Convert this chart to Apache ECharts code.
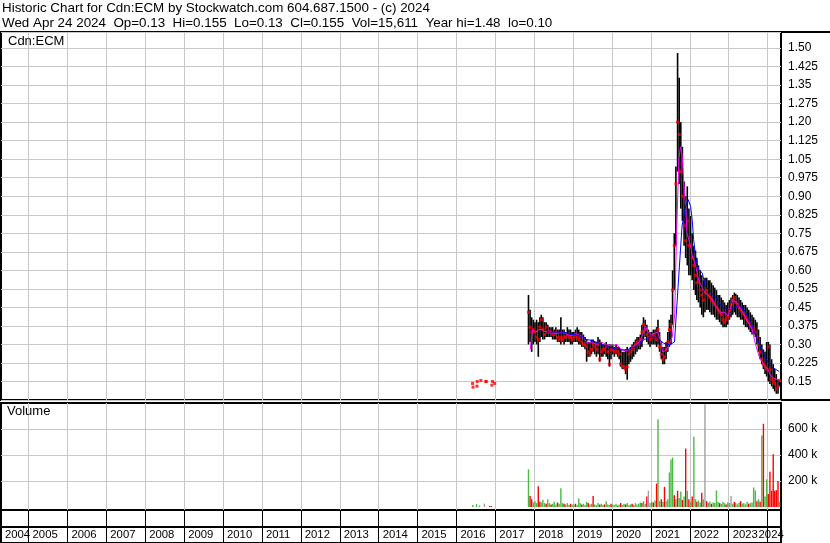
<!DOCTYPE html>
<html>
<head>
<meta charset="utf-8">
<title>Cdn:ECM historic chart</title>
<script src="https://cdn.jsdelivr.net/npm/echarts@6.0.0/dist/echarts.min.js"></script>
<style>
  html, body { margin: 0; padding: 0; background: #fff; }
  #chart { width: 830px; height: 543px; }
</style>
</head>
<body>
<div id="chart"></div>
<script>
var headerLine1 = 'Historic Chart for Cdn:ECM by Stockwatch.com 604.687.1500 - (c) 2024';
var headerLine2 = 'Wed Apr 24 2024  Op=0.13  Hi=0.155  Lo=0.13  Cl=0.155  Vol=15,611  Year hi=1.48  lo=0.10';

// year tick labels along the bottom
var years = ['2004', '2005', '2006', '2007', '2008', '2009', '2010', '2011', '2012', '2013', '2014',
  '2015', '2016', '2017', '2018', '2019', '2020', '2021', '2022', '2023', '2024'];
var volumeTicks = [200, 400, 600];

// half-month periods, Nov 2017 .. Apr 2024 (one line per year)
var highs = [
  0.50, 0.44, 0.41, 0.40,
  0.39, 0.40, 0.39, 0.41, 0.42, 0.41, 0.39, 0.39, 0.38, 0.37, 0.37, 0.37, 0.36, 0.37, 0.36, 0.36, 0.41, 0.36, 0.36, 0.35, 0.37, 0.36, 0.36, 0.35,
  0.35, 0.36, 0.37, 0.36, 0.35, 0.35, 0.34, 0.33, 0.32, 0.31, 0.31, 0.32, 0.32, 0.31, 0.31, 0.33, 0.32, 0.31, 0.30, 0.30, 0.31, 0.30, 0.30, 0.30,
  0.30, 0.29, 0.30, 0.29, 0.29, 0.28, 0.27, 0.27, 0.28, 0.29, 0.28, 0.29, 0.30, 0.31, 0.32, 0.33, 0.33, 0.34, 0.38, 0.41, 0.40, 0.38, 0.36, 0.35,
  0.35, 0.36, 0.36, 0.37, 0.40, 0.35, 0.31, 0.29, 0.29, 0.31, 0.35, 0.40, 0.42, 0.60, 0.75, 1.02, 1.48, 1.38, 1.20, 1.10, 0.96, 0.90, 0.94, 0.85,
  0.82, 0.75, 0.70, 0.68, 0.65, 0.62, 0.60, 0.58, 0.56, 0.57, 0.57, 0.56, 0.56, 0.55, 0.54, 0.53, 0.52, 0.50, 0.50, 0.49, 0.48, 0.47, 0.46, 0.47,
  0.48, 0.49, 0.50, 0.51, 0.505, 0.50, 0.49, 0.48, 0.47, 0.46, 0.46, 0.45, 0.44, 0.43, 0.42, 0.41, 0.40, 0.39, 0.36, 0.33, 0.30, 0.28, 0.27, 0.31,
  0.31, 0.30, 0.24, 0.22, 0.20, 0.18, 0.16, 0.155
];
var lows = [
  0.30, 0.31, 0.27, 0.30,
  0.31, 0.30, 0.25, 0.31, 0.33, 0.32, 0.32, 0.33, 0.33, 0.33, 0.33, 0.32, 0.32, 0.32, 0.31, 0.31, 0.30, 0.31, 0.30, 0.31, 0.31, 0.31, 0.30, 0.30,
  0.31, 0.31, 0.31, 0.30, 0.30, 0.29, 0.29, 0.28, 0.23, 0.25, 0.25, 0.26, 0.27, 0.26, 0.25, 0.26, 0.23, 0.25, 0.25, 0.26, 0.25, 0.24, 0.21, 0.24,
  0.26, 0.25, 0.26, 0.25, 0.24, 0.21, 0.20, 0.20, 0.18, 0.157, 0.22, 0.23, 0.24, 0.25, 0.26, 0.27, 0.28, 0.28, 0.29, 0.32, 0.33, 0.31, 0.30, 0.29,
  0.30, 0.30, 0.30, 0.29, 0.30, 0.27, 0.24, 0.22, 0.22, 0.24, 0.27, 0.29, 0.30, 0.38, 0.52, 0.70, 1.00, 0.95, 0.85, 0.80, 0.70, 0.65, 0.62, 0.58,
  0.58, 0.56, 0.52, 0.50, 0.48, 0.47, 0.45, 0.42, 0.41, 0.43, 0.44, 0.44, 0.43, 0.42, 0.42, 0.41, 0.40, 0.40, 0.39, 0.38, 0.37, 0.37, 0.37, 0.38,
  0.40, 0.41, 0.42, 0.43, 0.42, 0.41, 0.41, 0.40, 0.40, 0.38, 0.37, 0.37, 0.36, 0.35, 0.34, 0.34, 0.33, 0.30, 0.27, 0.24, 0.22, 0.20, 0.18, 0.17,
  0.15, 0.14, 0.13, 0.12, 0.11, 0.10, 0.10, 0.13
];
var closes = [
  0.43, 0.37, 0.35, 0.36,
  0.35, 0.33, 0.32, 0.37, 0.40, 0.36, 0.34, 0.37, 0.35, 0.35, 0.35, 0.34, 0.34, 0.35, 0.33, 0.32, 0.33, 0.32, 0.33, 0.33, 0.34, 0.33, 0.33, 0.32,
  0.33, 0.34, 0.33, 0.32, 0.33, 0.31, 0.30, 0.30, 0.29, 0.27, 0.26, 0.28, 0.30, 0.29, 0.28, 0.30, 0.24, 0.27, 0.28, 0.28, 0.29, 0.27, 0.22, 0.28,
  0.28, 0.27, 0.28, 0.27, 0.26, 0.22, 0.21, 0.21, 0.20, 0.21, 0.26, 0.27, 0.28, 0.29, 0.30, 0.31, 0.30, 0.32, 0.35, 0.38, 0.36, 0.34, 0.33, 0.32,
  0.33, 0.34, 0.33, 0.32, 0.36, 0.29, 0.26, 0.24, 0.25, 0.28, 0.31, 0.36, 0.38, 0.52, 0.70, 0.95, 1.20, 1.15, 1.00, 0.90, 0.78, 0.72, 0.80, 0.70,
  0.70, 0.65, 0.62, 0.58, 0.55, 0.55, 0.52, 0.50, 0.48, 0.51, 0.52, 0.50, 0.49, 0.48, 0.47, 0.46, 0.45, 0.44, 0.43, 0.42, 0.40, 0.39, 0.40, 0.41,
  0.44, 0.46, 0.48, 0.49, 0.47, 0.46, 0.45, 0.44, 0.43, 0.42, 0.41, 0.40, 0.39, 0.38, 0.37, 0.36, 0.35, 0.33, 0.30, 0.27, 0.24, 0.22, 0.21, 0.20,
  0.29, 0.20, 0.16, 0.15, 0.14, 0.12, 0.13, 0.155
];
// volume in thousands, g = up, r = down, k = unchanged
var volumes = [
  290, 85, 60, 35,
  45, 30, 160, 40, 35, 55, 30, 25, 60, 30, 20, 25, 40, 20, 35, 25, 145, 30, 25, 20, 30, 15, 25, 20,
  20, 25, 15, 65, 30, 20, 25, 15, 40, 30, 20, 25, 85, 20, 15, 30, 20, 25, 15, 20, 45, 20, 15, 25,
  20, 15, 25, 10, 20, 30, 15, 25, 20, 30, 15, 20, 25, 15, 30, 20, 25, 35, 30, 45, 25, 80, 125, 30,
  40, 35, 50, 180, 675, 45, 60, 40, 155, 45, 60, 265, 365, 380, 90, 60, 125, 70, 120, 55, 80, 450, 125, 60,
  40, 80, 540, 60, 40, 50, 35, 110, 60, 790, 45, 30, 40, 25, 35, 30, 128, 40, 30, 25, 40, 30, 20, 35,
  30, 85, 25, 40, 30, 20, 35, 45, 25, 30, 20, 40, 25, 30, 35, 150, 128, 45, 60, 40, 550, 640, 80, 213,
  100, 272, 125, 405, 125, 130, 200, 40
];
var volumeColors = ('grrg' +
  'ggrrgggrggrgggrgggrgggrg' +
  'grgggrgggrggrgggrggrgggr' +
  'gggrgrggrgggrgggggrggrkg' +
  'grgrggrgrgggggrgrggrgrgr' +
  'grggrggrgkrggrggggrgggrg' +
  'gkgrgggrggggrggggrgrgrgg' +
  'rrrrrrrg').split('');

// the few 2016 trades
var dates2016 = ['2016-06-01', '2016-06-05', '2016-07-12', '2016-07-15', '2016-08-18', '2016-10-04', '2016-10-07', '2016-11-29', '2016-12-06', '2016-12-26'];
var closes2016 = [0.142, 0.127, 0.131, 0.150, 0.154, 0.150, 0.150, 0.135, 0.150, 0.142];
var volDates2016 = ['2016-06-03', '2016-07-08', '2016-08-05', '2016-09-20', '2016-11-08', '2016-11-25'];
var vol2016 = [15, 22, 12, 26, 8, 8];
var volColors2016 = ['g', 'g', 'g', 'k', 'r', 'r'];

// moving averages
var blueDates = ['2018-05-01', '2018-06-01', '2018-07-01', '2018-08-01', '2018-09-01', '2018-10-01', '2018-11-01', '2018-12-01',
  '2019-01-01', '2019-02-01', '2019-03-01', '2019-04-01', '2019-05-01', '2019-06-01', '2019-07-01', '2019-08-01', '2019-09-01', '2019-10-01', '2019-11-01', '2019-12-01',
  '2020-01-01', '2020-02-01', '2020-03-01', '2020-04-01', '2020-05-01', '2020-06-01', '2020-07-01', '2020-08-01', '2020-09-01', '2020-10-01', '2020-11-01', '2020-12-01',
  '2021-01-01', '2021-02-01', '2021-03-01', '2021-04-01', '2021-05-01', '2021-06-01', '2021-07-01', '2021-08-10', '2021-09-12', '2021-10-20', '2021-11-22', '2021-12-17',
  '2022-01-08', '2022-01-23', '2022-02-06', '2022-02-24', '2022-03-25', '2022-04-27', '2022-05-26', '2022-07-01', '2022-09-01', '2022-11-01',
  '2023-01-01', '2023-02-15', '2023-04-01', '2023-05-25', '2023-07-15', '2023-09-10', '2023-11-05',
  '2024-01-01', '2024-02-05', '2024-03-15', '2024-04-20'];
var blueValues = [0.352, 0.35, 0.35, 0.35, 0.35, 0.35, 0.345, 0.34,
  0.34, 0.338, 0.335, 0.33, 0.32, 0.318, 0.315, 0.31, 0.305, 0.30, 0.295, 0.29,
  0.285, 0.282, 0.28, 0.278, 0.278, 0.28, 0.285, 0.29, 0.30, 0.31, 0.32, 0.325,
  0.33, 0.33, 0.325, 0.315, 0.305, 0.30, 0.30, 0.31, 0.53, 0.78, 0.86, 0.886,
  0.859, 0.805, 0.724, 0.657, 0.603, 0.59, 0.536, 0.52, 0.49, 0.45,
  0.44, 0.445, 0.46, 0.44, 0.40, 0.34, 0.28,
  0.23, 0.21, 0.20, 0.19];
var pinkDates = ['2017-11-25', '2017-12-15',
  '2018-01-15', '2018-02-15', '2018-03-15', '2018-04-15', '2018-05-15', '2018-06-15', '2018-07-15', '2018-08-15', '2018-09-15', '2018-10-15', '2018-11-15', '2018-12-15',
  '2019-01-15', '2019-02-15', '2019-03-15', '2019-04-15', '2019-05-15', '2019-06-15', '2019-07-15', '2019-08-15', '2019-09-15', '2019-10-15', '2019-11-15', '2019-12-15',
  '2020-01-15', '2020-02-15', '2020-03-15', '2020-04-15', '2020-05-15', '2020-06-15', '2020-07-15', '2020-08-15', '2020-09-15', '2020-10-15', '2020-11-10', '2020-12-05',
  '2021-01-05', '2021-02-05', '2021-03-05', '2021-04-05', '2021-04-20', '2021-05-20', '2021-06-20', '2021-07-20', '2021-08-12', '2021-08-28', '2021-09-20', '2021-10-05', '2021-10-20', '2021-11-06', '2021-11-22', '2021-12-06',
  '2022-01-08', '2022-01-23', '2022-02-24', '2022-03-25', '2022-04-27', '2022-05-10', '2022-06-15', '2022-07-20', '2022-08-25', '2022-10-15', '2022-11-25', '2022-12-25',
  '2023-02-10', '2023-03-15', '2023-04-15', '2023-05-25', '2023-07-01', '2023-08-10', '2023-09-10', '2023-10-15', '2023-11-25',
  '2024-01-01', '2024-02-05', '2024-03-15', '2024-04-20'];
var pinkValues = [0.28, 0.36,
  0.35, 0.36, 0.36, 0.35, 0.355, 0.35, 0.345, 0.345, 0.35, 0.345, 0.34, 0.335,
  0.34, 0.34, 0.335, 0.325, 0.305, 0.31, 0.305, 0.30, 0.31, 0.305, 0.30, 0.295,
  0.295, 0.30, 0.285, 0.275, 0.275, 0.28, 0.29, 0.30, 0.31, 0.34, 0.375, 0.35,
  0.34, 0.345, 0.35, 0.31, 0.27, 0.275, 0.30, 0.33, 0.42, 0.724, 1.05, 1.10, 1.07, 0.953, 0.86, 0.75,
  0.70, 0.66, 0.62, 0.56, 0.53, 0.52, 0.50, 0.49, 0.46, 0.43, 0.43, 0.415,
  0.48, 0.47, 0.45, 0.42, 0.39, 0.36, 0.30, 0.25, 0.22,
  0.20, 0.17, 0.16, 0.155];

function toTime(s) {
  var p = s.split('-');
  return new Date(+p[0], +p[1] - 1, +p[2]).getTime();
}

// period dates: middle of each half month
var periodDates = [];
for (var m = 0; m < 78; m++) {
  var d = new Date(2017, 10 + m, 1);
  periodDates.push(new Date(d.getFullYear(), d.getMonth(), 8).getTime());
  periodDates.push(new Date(d.getFullYear(), d.getMonth(), 23).getTime());
}

var xMin = toTime('2004-04-17');
var xMax = toTime('2024-05-06');
var yearStarts = [];
for (var i = 1; i < years.length; i++) {
  yearStarts.push(toTime(years[i] + '-01-01'));
}
// label anchors: first at the left edge, last pulled in so it fits
var yearLabelValues = [xMin].concat(yearStarts.slice(0, -1), [toTime('2023-09-01')]);

var colorMap = { g: '#4cb848', r: '#ff0000', k: '#a0a0a0' };
var plainFont = "'Liberation Sans', Arial, sans-serif";

var barData = [];
var dotData = [];
var volumeData = [];
for (var i = 0; i < periodDates.length; i++) {
  barData.push([periodDates[i], highs[i], lows[i]]);
  dotData.push([periodDates[i], closes[i]]);
  volumeData.push({ value: [periodDates[i], volumes[i]], itemStyle: { color: colorMap[volumeColors[i]] } });
}
for (var i = 0; i < dates2016.length; i++) {
  dotData.push([toTime(dates2016[i]), closes2016[i]]);
}
for (var i = 0; i < volDates2016.length; i++) {
  volumeData.push({ value: [toTime(volDates2016[i]), vol2016[i]], itemStyle: { color: colorMap[volColors2016[i]] } });
}
var blueData = blueDates.map(function (t, i) { return [toTime(t), blueValues[i]]; });
var pinkData = pinkDates.map(function (t, i) { return [toTime(t), pinkValues[i]]; });

var myChart = echarts.init(document.getElementById('chart'));

// x axis for the two plot panels: grey year lines only
function plotXAxis(idx) {
  return {
    gridIndex: idx, type: 'value', min: xMin, max: xMax,
    axisLine: { show: false },
    axisTick: { show: false, customValues: yearStarts },
    axisLabel: { show: false, customValues: yearStarts },
    splitLine: { show: true, customValues: yearStarts, lineStyle: { color: '#c8c8c8', width: 1 } }
  };
}

var option = {
  animation: false,
  backgroundColor: '#fff',
  title: [
    {
      text: headerLine1 + '\n' + headerLine2,
      left: 2, top: 1, padding: 0,
      textStyle: { fontFamily: plainFont, fontSize: 13.4, lineHeight: 15, fontWeight: 'normal', color: '#000' }
    },
    {
      text: 'Cdn:ECM', left: 8, top: 35, padding: 0,
      textStyle: { fontFamily: plainFont, fontSize: 13, fontWeight: 'normal', color: '#000' }
    },
    {
      text: 'Volume', left: 7, top: 405, padding: 0,
      textStyle: { fontFamily: plainFont, fontSize: 13, fontWeight: 'normal', color: '#000' }
    }
  ],
  grid: [
    { left: 1, top: 32, width: 780, height: 368, show: true, borderColor: '#000', borderWidth: 2 },
    { left: 1, top: 403, width: 780, height: 107, show: true, borderColor: '#000', borderWidth: 2 },
    { left: 1, top: 510, width: 780, height: 33, show: true, borderColor: '#000', borderWidth: 2 }
  ],
  xAxis: [
    plotXAxis(0),
    plotXAxis(1),
    {
      gridIndex: 2, type: 'value', min: xMin, max: xMax, position: 'bottom', offset: -16,
      axisLine: { show: true, lineStyle: { color: '#000', width: 2 } },
      axisTick: { show: false, customValues: yearStarts },
      axisLabel: {
        customValues: yearLabelValues, showMinLabel: true, hideOverlap: false,
        align: 'left', margin: 2, padding: [0, 0, 0, 4],
        color: '#000', fontSize: 11.3, fontFamily: plainFont,
        formatter: function (v) {
          var k = yearLabelValues.indexOf(v);
          return k >= 0 ? years[k] : '';
        }
      },
      splitLine: { show: true, customValues: yearStarts, lineStyle: { color: '#000', width: 1 } }
    }
  ],
  yAxis: [
    {
      gridIndex: 0, type: 'value', position: 'right',
      min: 0.075, max: 1.565, interval: 0.075,
      axisLine: { show: false }, axisTick: { show: false },
      axisLabel: {
        margin: 7, color: '#000', fontSize: 12, fontFamily: plainFont,
        formatter: function (v) {
          if (v < 0.1 || v > 1.51) return '';
          var r = Math.round(v * 1000);
          return r % 10 === 0 ? v.toFixed(2) : v.toFixed(3);
        }
      },
      splitLine: { show: true, lineStyle: { color: '#c8c8c8', width: 1 } }
    },
    {
      gridIndex: 1, type: 'value', position: 'right', min: -23, max: 800,
      axisLine: { show: false },
      axisTick: { show: false, customValues: volumeTicks },
      axisLabel: {
        customValues: volumeTicks, margin: 7, color: '#000', fontSize: 12, fontFamily: plainFont,
        formatter: function (v) { return v + ' k'; }
      },
      splitLine: { show: true, customValues: volumeTicks, lineStyle: { color: '#c8c8c8', width: 1 } }
    },
    { gridIndex: 2, type: 'value', show: false, min: 0, max: 1 }
  ],
  graphic: [
    { type: 'line', shape: { x1: 781, y1: 32, x2: 830, y2: 32 }, style: { stroke: '#000', lineWidth: 2 } },
    { type: 'line', shape: { x1: 781, y1: 400, x2: 830, y2: 400 }, style: { stroke: '#000', lineWidth: 2 } }
  ],
  series: [
    {
      name: 'range', type: 'custom', xAxisIndex: 0, yAxisIndex: 0,
      encode: { x: 0, y: [1, 2] },
      renderItem: function (params, api) {
        var top = api.coord([api.value(0), api.value(1)]);
        var bottom = api.coord([api.value(0), api.value(2)]);
        return {
          type: 'rect',
          shape: { x: top[0] - 0.8, y: top[1], width: 1.6, height: Math.max(bottom[1] - top[1], 1) },
          style: { fill: '#000' }
        };
      },
      data: barData
    },
    {
      name: 'close', type: 'scatter', xAxisIndex: 0, yAxisIndex: 0,
      symbol: 'rect', symbolSize: 3, itemStyle: { color: '#ff0000' },
      data: dotData
    },
    {
      name: 'short avg', type: 'line', xAxisIndex: 0, yAxisIndex: 0,
      symbol: 'none', lineStyle: { color: '#ff00ff', width: 1 },
      data: pinkData
    },
    {
      name: 'long avg', type: 'line', xAxisIndex: 0, yAxisIndex: 0,
      symbol: 'none', lineStyle: { color: '#0000ff', width: 1 },
      data: blueData
    },
    {
      name: 'volume', type: 'bar', xAxisIndex: 1, yAxisIndex: 1,
      barWidth: 1.4, data: volumeData
    }
  ]
};

myChart.setOption(option);
</script>
</body>
</html>
